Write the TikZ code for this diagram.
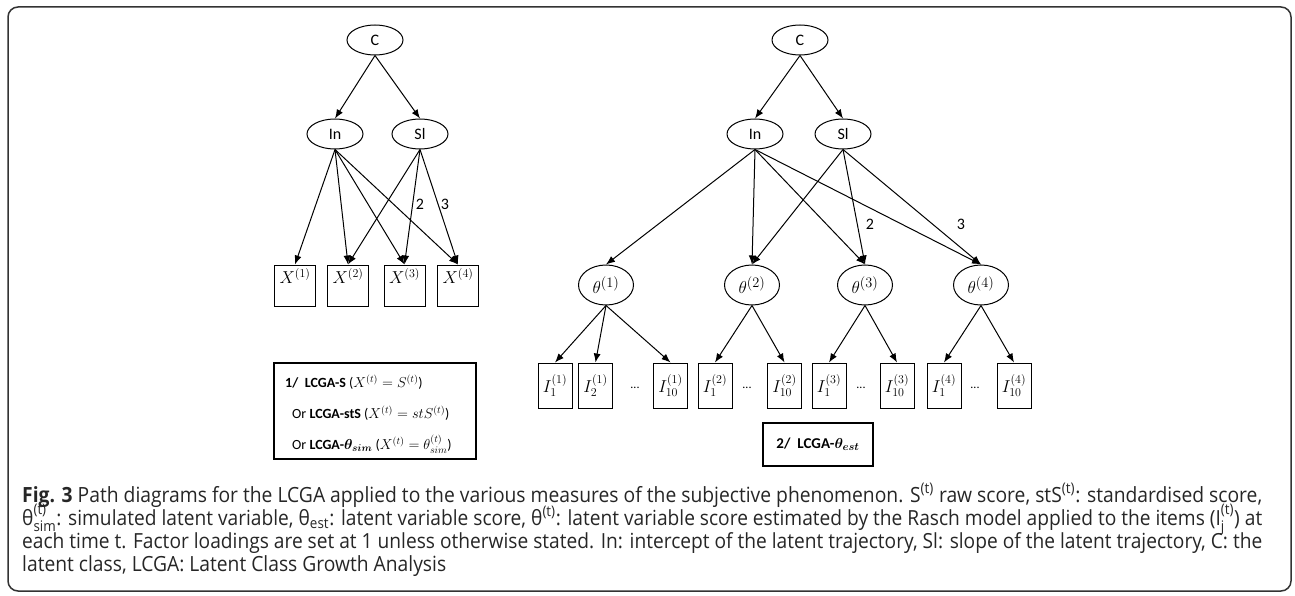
\documentclass[tikz,border=0pt]{standalone}
\usepackage{amsmath}
\usepackage{bm}
\usepackage{graphicx}
\usepackage{fontspec}
\usetikzlibrary{shapes.geometric,arrows.meta}
\newfontfamily\capfont[FakeStretch=0.92]{Open Sans}
\newfontfamily\carlito{Carlito}
\newcommand\capsz{\fontsize{16}{16}\selectfont}
\begin{document}
\begin{tikzpicture}[x=1pt,y=-1pt,
  lat/.style={ellipse, draw, line width=1pt, minimum width=56pt, minimum height=30pt, inner sep=0pt, font=\carlito\fontsize{16}{16}\selectfont},
  th/.style={ellipse, draw, line width=1pt, minimum width=55pt, minimum height=40pt, inner sep=0pt, font=\fontsize{19}{19}\selectfont},
  obs/.style={rectangle, draw, line width=1pt, minimum width=41pt, minimum height=41pt, inner sep=0pt},
  item/.style={rectangle, draw, line width=1pt, minimum width=34pt, minimum height=45pt, inner sep=0pt, font=\fontsize{18}{18}\selectfont},
  lbl/.style={anchor=north, inner sep=0pt, yshift=-4pt, font=\fontsize{18}{18}\selectfont},
  arr/.style={-{Latex[length=9pt,width=7pt]}, line width=1pt},
  num/.style={font=\carlito\fontsize{16}{16}\selectfont, inner sep=0pt},
  dots/.style={font=\carlito\fontsize{12}{12}\selectfont, inner sep=0pt},
  modbox/.style={rectangle, draw, line width=2.5pt, inner sep=0pt},
  boxtxt/.style={anchor=west, inner sep=0pt, font=\carlito\fontsize{14}{14}\selectfont},
  capline/.style={anchor=base west, inner sep=0pt, text=black!85}
]
\useasboundingbox (0,0) rectangle (1295,596);
\draw[rounded corners=10pt, line width=1.5pt, black!80] (8,7) rectangle (1291,591);

% ---------- left diagram ----------
\node[lat] (C1) at (375,40) {C};
\node[lat] (In1) at (335,134) {In};
\node[lat] (Sl1) at (420,134) {Sl};
\node[obs, label={[lbl]north:$X^{(1)}$}] (X1) at (295,285.5) {};
\node[obs, label={[lbl]north:$X^{(2)}$}] (X2) at (348,285.5) {};
\node[obs, label={[lbl]north:$X^{(3)}$}] (X3) at (404.5,285.5) {};
\node[obs, label={[lbl]north:$X^{(4)}$}] (X4) at (458,285.5) {};
\draw[arr] (C1.south) -- (In1.north);
\draw[arr] (C1.south) -- (Sl1.north);
\foreach \t in {X1,X2,X3,X4} \draw[arr] (In1.south) -- (\t.north);
\foreach \t in {X2,X3,X4} \draw[arr] (Sl1.south) -- (\t.north);
\node[num] (n2a) at (420,204) {2};
\node[num] (n3a) at (445,204) {3};

\node[modbox, minimum width=202pt, minimum height=96pt] (B1) at (375,411) {};
\node[boxtxt] (B1a) at (285,382) {\textbf{1/}\ \ \textbf{LCGA-S} ($X^{(t)}=S^{(t)}$)};
\node[boxtxt] (B1b) at (292,413) {Or \textbf{LCGA-stS} ($X^{(t)}=stS^{(t)}$)};
\node[boxtxt] (B1c) at (292,444) {Or \textbf{LCGA-$\bm{\theta_{sim}}$} ($X^{(t)}=\theta^{(t)}_{sim}$)};

% ---------- right diagram ----------
\node[lat] (C2) at (800,40) {C};
\node[lat] (In2) at (755,134) {In};
\node[lat] (Sl2) at (843,134) {Sl};
\node[th] (T1) at (606,285) {$\theta^{(1)}$};
\node[th] (T2) at (752,285) {$\theta^{(2)}$};
\node[th] (T3) at (865,285) {$\theta^{(3)}$};
\node[th] (T4) at (981,285) {$\theta^{(4)}$};
\draw[arr] (C2.south) -- (In2.north);
\draw[arr] (C2.south) -- (Sl2.north);
\foreach \t in {T1,T2,T3,T4} \draw[arr] (In2.south) -- (\t.north);
\foreach \t in {T2,T3,T4} \draw[arr] (Sl2.south) -- (\t.north);
\node[num] (n2b) at (870,224) {2};
\node[num] (n3b) at (961,224) {3};

\node[item] (I11) at (555,385.5) {$I^{(1)}_{1}$};
\node[item] (I21) at (595.5,385.5) {$I^{(1)}_{2}$};
\node[dots] (d1) at (635,388) {...};
\node[item] (I101) at (670.5,385.5) {$I^{(1)}_{10}$};
\node[item] (I12) at (715,385.5) {$I^{(2)}_{1}$};
\node[dots] (d2) at (747,388) {...};
\node[item] (I102) at (784.5,385.5) {$I^{(2)}_{10}$};
\node[item] (I13) at (829,385.5) {$I^{(3)}_{1}$};
\node[dots] (d3) at (861,388) {...};
\node[item] (I103) at (897,385.5) {$I^{(3)}_{10}$};
\node[item] (I14) at (944,385.5) {$I^{(4)}_{1}$};
\node[dots] (d4) at (975,388) {...};
\node[item] (I104) at (1014,385.5) {$I^{(4)}_{10}$};
\foreach \t in {I11,I21,I101} \draw[arr] (T1.south) -- (\t.north);
\foreach \t in {I12,I102} \draw[arr] (T2.south) -- (\t.north);
\foreach \t in {I13,I103} \draw[arr] (T3.south) -- (\t.north);
\foreach \t in {I14,I104} \draw[arr] (T4.south) -- (\t.north);

\node[modbox, minimum width=110pt, minimum height=43pt, font=\carlito\fontsize{15}{15}\selectfont] (B2) at (818,444.5) {\textbf{2/}\ \ \textbf{LCGA-$\bm{\theta_{est}}$}};

% ---------- caption ----------
\node[capline] (L1) at (22,502) {\capfont\capsz\resizebox{1240pt}{!}{\textbf{Fig. 3} Path diagrams for the LCGA applied to the various measures of the subjective phenomenon. S\textsuperscript{(t)} raw score, stS\textsuperscript{(t)}: standardised score,}};
\node[capline] (L2) at (22,525) {\capfont\capsz\resizebox{1240pt}{!}{$\text{θ}^{\text{(t)}}_{\text{sim}}$: simulated latent variable, $\text{θ}_{\text{est}}$: latent variable score, θ\textsuperscript{(t)}: latent variable score estimated by the Rasch model applied to the items ($\text{I}^{\text{(t)}}_{\text{j}}$) at}};
\node[capline] (L3) at (22,548) {\capfont\capsz\resizebox{1240pt}{!}{each time t. Factor loadings are set at 1 unless otherwise stated. In: intercept of the latent trajectory, Sl: slope of the latent trajectory, C: the}};
\node[capline] (L4) at (22,571) {\capfont\capsz\resizebox{424pt}{!}{latent class, LCGA: Latent Class Growth Analysis}};
\end{tikzpicture}
\end{document}
